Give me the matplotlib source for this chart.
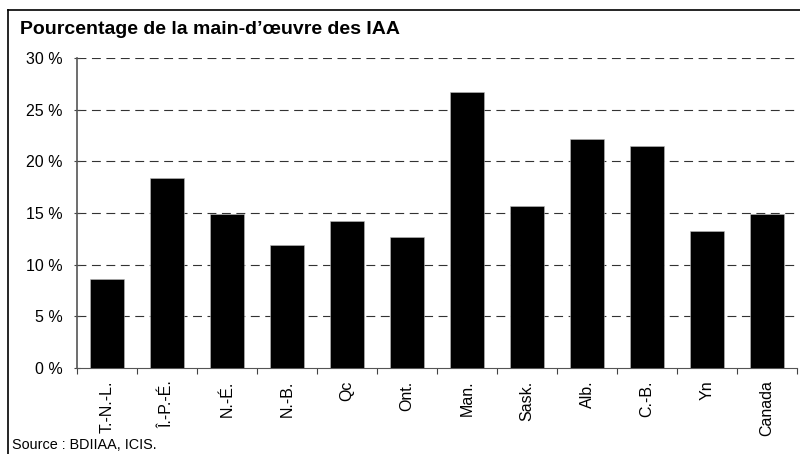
import matplotlib.pyplot as plt
from matplotlib.lines import Line2D
from matplotlib.ticker import FixedLocator

plt.rcParams["font.family"] = ["Liberation Sans", "DejaVu Sans"]

provinces = ["T.-N.-L.", "Î.-P.-É.", "N.-É.", "N.-B.", "Qc", "Ont.",
             "Man.", "Sask.", "Alb.", "C.-B.", "Yn", "Canada"]
share = [8.6, 18.4, 14.9, 11.9, 14.2, 12.7, 26.7, 15.7, 22.2, 21.5, 13.3, 14.9]
yticks = [0, 5, 10, 15, 20, 25, 30]

fig = plt.figure(figsize=(8, 4.54), dpi=100)
ax = fig.add_axes([77 / 800, 1 - 368 / 454, 720 / 800, 310 / 454])

x = list(range(len(provinces)))
ax.bar(x, share, width=0.58, color="black", edgecolor="#bbbbbb", linewidth=0.4, zorder=3)

ax.set_xlim(-0.5, len(provinces) - 0.5)
ax.set_ylim(0, 30)
ax.set_yticks(yticks)
ax.set_yticklabels([f"{t} %" for t in yticks], fontsize=11.5)
for t in yticks[1:]:
    ax.axhline(t, color="#333333", lw=0.8, ls=(0, (8, 5)), zorder=1)

# category boundaries as ticks, labels at the centres
ax.xaxis.set_major_locator(FixedLocator([i - 0.5 for i in range(len(provinces) + 1)]))
ax.xaxis.set_major_formatter(plt.NullFormatter())
ax.xaxis.set_minor_locator(FixedLocator(x))
ax.set_xticklabels(provinces, minor=True, rotation=90, fontsize=11.5)
ax.tick_params(axis="x", which="major", length=4, direction="out", color="#444444")
ax.tick_params(axis="x", which="minor", length=0, pad=9)
ax.tick_params(axis="y", length=5, direction="inout", color="#444444", pad=8)

for side in ["top", "right"]:
    ax.spines[side].set_visible(False)
ax.spines["left"].set_color("#555555")
ax.spines["bottom"].set_color("#555555")
ax.spines["left"].set_linewidth(1.2)

fig.text(20 / 800, 1 - 34 / 454, "Pourcentage de la main-d\u2019\u0153uvre des IAA",
         fontsize=14, fontweight="bold")
fig.text(12 / 800, 1 - 449 / 454, "Source : BDIIAA, ICIS.", fontsize=10.4)

# frame around the chart (cut by the picture edge on the right and bottom)
fig.add_artist(Line2D([8 / 800, 8 / 800], [0, 1 - 10 / 454], color="black", lw=1.2))
fig.add_artist(Line2D([8 / 800, 1], [1 - 10 / 454, 1 - 10 / 454], color="black", lw=1.2))

fig.savefig("out.png", dpi=100)
